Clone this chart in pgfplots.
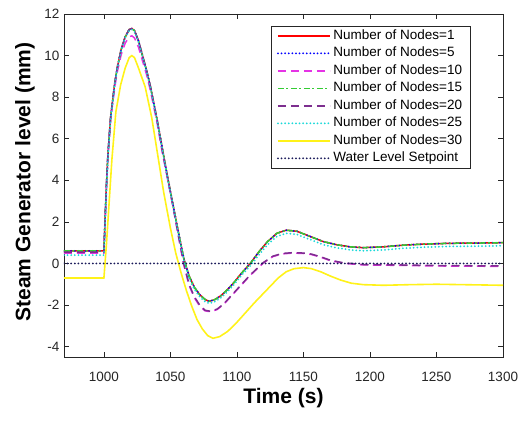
\documentclass[border=0pt]{standalone}
\usepackage{pgfplots}
\pgfplotsset{compat=1.18}
\usepackage{pgfplotstable}
\usepackage{fontspec}
\setmainfont{Liberation Sans}

\definecolor{axgray}{rgb}{0.15,0.15,0.15}
\definecolor{cGreen}{rgb}{0.2,0.8,0.2}
\definecolor{cPurple}{rgb}{0.49,0.18,0.56}
\definecolor{cMag}{rgb}{0.9,0.2,0.9}
\definecolor{cCyan}{rgb}{0.1,0.85,0.85}
\definecolor{cYel}{rgb}{1,0.95,0.1}
\definecolor{cSet}{rgb}{0.1,0.1,0.35}

% group of nodes 1, 5, 15
\pgfplotstableread{
t v
970 0.6
1000 0.6
1001 2.3
1002 3.9
1003 5.2
1005 7.0
1008 8.6
1010 9.4
1013 10.3
1016 10.9
1019 11.25
1021 11.3
1023 11.2
1026 10.7
1029 10.0
1032 9.3
1035 8.5
1040 6.9
1044 5.5
1048 4.1
1052 2.8
1056 1.5
1060 0.25
1064 -0.6
1068 -1.15
1072 -1.5
1076 -1.73
1079 -1.82
1083 -1.75
1088 -1.55
1093 -1.25
1098 -0.9
1103 -0.5
1110 0.0
1117 0.6
1123 1.05
1130 1.45
1137 1.6
1145 1.55
1155 1.3
1165 1.05
1175 0.9
1185 0.8
1195 0.76
1210 0.8
1225 0.88
1240 0.93
1260 0.97
1280 0.98
1300 1.0
}\grpA

% nodes 25
\pgfplotstableread{
t v
970 0.4
1000 0.4
1001 2.1
1002 3.7
1003 5.0
1005 6.9
1008 8.5
1010 9.35
1013 10.25
1016 10.85
1019 11.2
1021 11.25
1023 11.15
1026 10.65
1029 9.95
1032 9.25
1035 8.45
1040 6.85
1044 5.45
1048 4.05
1052 2.75
1056 1.45
1060 0.2
1064 -0.7
1068 -1.25
1072 -1.6
1076 -1.83
1079 -1.92
1083 -1.85
1088 -1.65
1093 -1.35
1098 -1.0
1103 -0.6
1110 -0.12
1117 0.45
1123 0.9
1130 1.3
1137 1.45
1145 1.4
1155 1.15
1165 0.9
1175 0.75
1185 0.65
1195 0.61
1210 0.65
1225 0.73
1240 0.78
1260 0.82
1280 0.83
1300 0.85
}\grpC

% nodes 20
\pgfplotstableread{
t v
970 0.55
1000 0.55
1001 2.3
1002 3.9
1003 5.2
1005 7.0
1008 8.6
1010 9.4
1013 10.3
1016 10.9
1019 11.25
1021 11.3
1023 11.2
1026 10.7
1029 10.0
1032 9.3
1035 8.5
1040 6.9
1044 5.4
1048 4.1
1052 2.75
1056 1.35
1060 0.0
1064 -1.0
1068 -1.6
1072 -2.0
1076 -2.25
1080 -2.3
1085 -2.2
1090 -1.95
1095 -1.6
1100 -1.25
1105 -0.9
1110 -0.55
1115 -0.25
1120 0.05
1127 0.35
1134 0.48
1142 0.52
1150 0.5
1156 0.45
1163 0.32
1170 0.16
1180 0.03
1195 -0.05
1220 -0.07
1250 -0.1
1300 -0.12
}\grpP

% nodes 10
\pgfplotstableread{
t v
970 0.5
1000 0.5
1001 2.2
1002 3.8
1003 5.1
1005 6.9
1008 8.4
1010 9.2
1013 10.05
1016 10.6
1019 10.9
1021 10.95
1023 10.85
1026 10.4
1029 9.75
1032 9.1
1035 8.3
1040 6.75
1044 5.3
1048 4.0
1052 2.7
1056 1.3
1060 -0.05
1064 -1.05
1068 -1.65
1072 -2.05
1076 -2.28
1080 -2.32
1085 -2.22
1090 -1.97
1095 -1.62
1100 -1.27
1105 -0.92
1110 -0.57
1115 -0.27
1120 0.03
1127 0.33
1134 0.46
1142 0.5
1150 0.48
1156 0.43
1163 0.3
1170 0.14
1180 0.01
1195 -0.07
1220 -0.09
1250 -0.12
1300 -0.14
}\grpM

% nodes 30
\pgfplotstableread{
t v
970 -0.7
1000 -0.7
1002 1.0
1004 3.0
1006 5.0
1009 7.3
1012.6 8.6
1016 9.4
1019 9.9
1021 10.0
1023 9.9
1026 9.4
1031 8.5
1036 7.0
1040 5.4
1045 3.4
1050 1.7
1054 0.5
1058 -0.45
1062 -1.3
1066 -2.05
1070 -2.7
1074 -3.15
1078 -3.47
1082 -3.6
1087 -3.52
1093 -3.27
1099 -2.9
1106 -2.4
1113 -1.9
1119 -1.5
1125 -1.1
1131 -0.7
1137 -0.4
1143 -0.25
1150 -0.2
1156 -0.25
1163 -0.4
1170 -0.6
1178 -0.8
1186 -0.95
1195 -1.02
1210 -1.05
1230 -1.02
1250 -1.0
1270 -1.02
1300 -1.05
}\grpY

\begin{document}
\begin{tikzpicture}
\useasboundingbox (-64pt,-67pt) rectangle (454pt,357pt);
\begin{axis}[
  scale only axis,
  width=439pt, height=343pt,
  at={(0pt,0pt)}, anchor=south west,
  xmin=970, xmax=1300, ymin=-4.5, ymax=12,
  xtick={1000,1050,...,1300},
  ytick={-4,-2,...,12},
  tick pos=both, tick align=inside,
  major tick length=5pt,
  axis line style={axgray, line width=0.6pt},
  every tick/.style={axgray, line width=0.6pt},
  /pgf/number format/assume math mode=true,
  /pgf/number format/set thousands separator={},
  ticklabel style={font=\fontsize{13.5}{14}\selectfont, text=axgray},
  xticklabel style={anchor=center, yshift=-20pt},
  yticklabel style={anchor=east, xshift=-1pt},
  xlabel={Time (s)},
  ylabel={Steam Generator level (mm)},
  label style={font=\bfseries\fontsize{21}{22}\selectfont, text=black},
  xlabel style={at={(axis description cs:0.5,-0.12)}, anchor=center},
  ylabel style={at={(axis description cs:-0.089,0.51)}, anchor=center},
  legend image code/.code={\draw[#1] (0pt,0pt) -- (52pt,0pt);},
  legend cell align=left,
  legend style={
    at={(0.927,0.965)}, anchor=north east,
    draw=axgray, line width=0.6pt,
    font=\fontsize{13.5}{14}\selectfont,
    inner xsep=6pt, inner ysep=2pt,
    row sep=2.5pt,
    nodes={inner xsep=2.5pt, inner ysep=1pt, text height=10pt, text depth=3pt},
  },
  dotline/.style={line width=2pt, line cap=round, dash pattern=on 0pt off 3.6pt},
]
\addplot[red, line width=1.5pt] table[x=t,y=v] {\grpA};
\addlegendentry{Number of Nodes=1}
\addplot[blue, dotline] table[x=t,y=v] {\grpA};
\addlegendentry{Number of Nodes=5}
\addplot[cMag, line width=1.5pt, dash pattern=on 8pt off 5pt] table[x=t,y=v] {\grpM};
\addlegendentry{Number of Nodes=10}
\addplot[cGreen, line width=1.5pt, dash pattern=on 6pt off 2.5pt on 2pt off 2.5pt] table[x=t,y=v] {\grpA};
\addlegendentry{Number of Nodes=15}
\addplot[cPurple, line width=1.5pt, dash pattern=on 8pt off 5pt] table[x=t,y=v] {\grpP};
\addlegendentry{Number of Nodes=20}
\addplot[cCyan, dotline] table[x=t,y=v] {\grpC};
\addlegendentry{Number of Nodes=25}
\addplot[cYel, line width=1.6pt] table[x=t,y=v] {\grpY};
\addlegendentry{Number of Nodes=30}
\addplot[cSet, dotline] coordinates {(970,0) (1300,0)};
\addlegendentry{Water Level Setpoint}
\end{axis}
\end{tikzpicture}
\end{document}
